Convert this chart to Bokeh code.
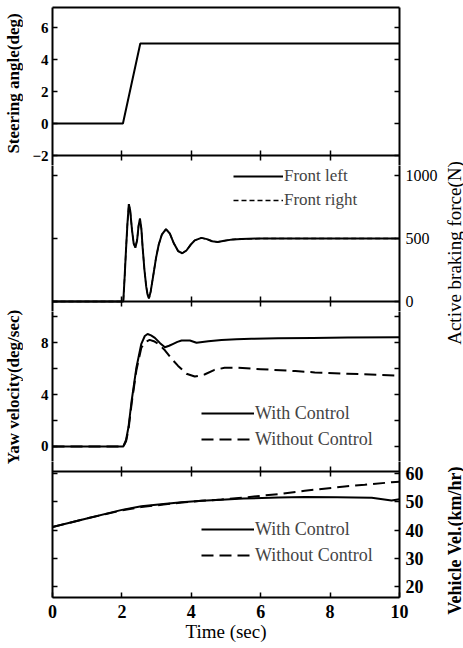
import math
from bokeh.plotting import figure
from bokeh.models import LinearAxis, FixedTicker, Range1d, Legend, LegendItem
from bokeh.layouts import column, row
from bokeh.embed import file_html
from bokeh.resources import INLINE

# ---------------- data ----------------
time_steer = [0, 2.03, 2.53, 10]
steer_deg = [0, 0, 5, 5]

time_brake = [0, 2.04, 2.08, 2.12, 2.16, 2.2, 2.24, 2.29, 2.34, 2.39, 2.44,
              2.48, 2.52, 2.56, 2.6, 2.65, 2.7, 2.74, 2.78, 2.83, 2.9,
              2.98, 3.06, 3.15, 3.27, 3.38, 3.5, 3.62, 3.74, 3.86, 3.98,
              4.1, 4.29, 4.45, 4.6, 4.76, 4.95, 5.2, 5.45, 6.0, 7.0,
              8.0, 9.0, 10.0]
front_left = [0, 0, 200, 420, 620, 773, 720, 570, 460, 428, 490,
              600, 658, 580, 420, 250, 120, 55, 25, 80, 200,
              340, 450, 530, 574, 540, 460, 400, 383, 405, 450,
              485, 505, 495, 478, 473, 482, 493, 497, 500, 500,
              500, 500, 500]
front_right = [0, 0, 200, 420, 620, 773, 720, 570, 460, 428, 490,
               600, 658, 580, 420, 250, 120, 55, 25, 80, 200,
               340, 450, 530, 574, 540, 460, 400, 383, 405, 450,
               485, 505, 495, 478, 473, 482, 493, 497, 500, 500,
               500, 500, 500]

time_yaw_with = [0, 2.04, 2.12, 2.19, 2.28, 2.42, 2.56, 2.66, 2.74, 2.84,
                 2.95, 3.1, 3.24, 3.36, 3.48, 3.6, 3.72, 3.96, 4.15, 4.49,
                 4.87, 5.3, 5.73, 6.5, 7.5, 8.5, 10]
yaw_with = [0, 0, 0.5, 1.5, 3.5, 6.1, 7.9, 8.5, 8.65, 8.55,
            8.36, 7.95, 7.64, 7.75, 7.9, 8.05, 8.15, 8.15, 7.98, 8.1,
            8.2, 8.25, 8.28, 8.32, 8.35, 8.38, 8.4]
time_yaw_without = [0, 2.04, 2.12, 2.19, 2.28, 2.42, 2.56, 2.66, 2.8, 2.92,
                    3.05, 3.24, 3.43, 3.62, 3.86, 4.1, 4.38, 4.67, 4.96, 5.35,
                    6.0, 7.0, 7.56, 8.5, 9.87, 10]
yaw_without = [0, 0, 0.4, 1.3, 3.3, 5.9, 7.6, 8.0, 8.2, 8.1,
               7.9, 7.4, 6.75, 6.2, 5.6, 5.38, 5.54, 5.9, 6.05, 6.05,
               5.95, 5.8, 5.7, 5.6, 5.46, 5.45]

time_vel_with = [0, 0.93, 2.0, 2.56, 3.2, 3.72, 4.3, 4.87, 5.5, 6.5, 7.27, 8.2, 9.2, 9.77, 10]
vel_with = [41.1, 44.0, 47.2, 48.5, 49.3, 49.9, 50.4, 50.8, 51.2, 51.6, 51.8, 51.7, 51.5, 50.5, 51.0]
time_vel_without = [0, 0.93, 2.0, 2.56, 3.2, 3.72, 4.3, 4.87, 5.54, 6.5, 7.27, 8.42, 9.0, 9.77, 10]
vel_without = [41.1, 44.0, 47.0, 48.2, 49.1, 49.8, 50.4, 50.9, 51.6, 52.8, 54.0, 55.5, 56.1, 57.0, 57.2]

x_ticks = [0, 2, 4, 6, 8, 10]
border_x_ticks = [2, 4, 6, 8]
steer_ticks = [-2, 0, 2, 4, 6]
brake_ticks = [0, 500, 1000]
yaw_ticks = [0, 4, 8]
yaw_minor_ticks = [2, 6, 10]
yaw_all_ticks = [0, 2, 4, 6, 8, 10]
vel_ticks = [20, 30, 40, 50, 60]

# ---------------- styling ----------------
FONT = "Liberation Serif"
FRAME_W = 347
LEFT_B = 29
RIGHT_B = 40
LEFT_STRIP = 22
RIGHT_STRIP = 22


def make_fig(frame_h, y0, y1, top_border=0, bottom_border=0):
    p = figure(frame_width=FRAME_W, frame_height=frame_h,
               x_range=Range1d(0, 10), y_range=Range1d(y0, y1),
               x_axis_location=None, y_axis_location=None,
               output_backend="svg", toolbar_location=None,
               min_border_left=LEFT_B, min_border_right=RIGHT_B,
               min_border_top=top_border, min_border_bottom=bottom_border)
    p.xgrid.grid_line_color = None
    p.ygrid.grid_line_color = None
    p.outline_line_color = None
    p.background_fill_color = "white"
    p.border_fill_color = "white"
    return p


def style_axis(ax, show_labels=False, font_size="15px", bold=True, standoff=4,
               tick_in=5, tick_out=0, minor=False):
    ax.axis_line_width = 2
    ax.axis_line_color = "black"
    ax.major_tick_in = tick_in
    ax.major_tick_out = tick_out
    ax.major_tick_line_width = 1.5
    if minor:
        ax.minor_tick_in = tick_in
        ax.minor_tick_out = tick_out
        ax.minor_tick_line_width = 1.5
    else:
        ax.minor_tick_line_color = None
    if show_labels:
        ax.major_label_text_font = FONT
        ax.major_label_text_font_size = font_size
        ax.major_label_text_font_style = "bold" if bold else "normal"
        ax.major_label_text_color = "black"
        ax.major_label_standoff = standoff
    else:
        ax.major_label_text_color = None
        ax.major_label_text_font_size = "0px"
        ax.major_label_standoff = 0


def add_axis(p, side, ticks, minor=None, label=None, label_size="17px",
             label_bold=True, label_standoff=5, fixed=None, **kw):
    ax = LinearAxis(ticker=FixedTicker(ticks=ticks, minor_ticks=minor or []))
    if fixed is not None:
        ax.fixed_location = fixed
    style_axis(ax, minor=bool(minor), **kw)
    if label:
        ax.axis_label = label
        ax.axis_label_text_font = FONT
        ax.axis_label_text_font_size = label_size
        ax.axis_label_text_font_style = "bold" if label_bold else "normal"
        ax.axis_label_text_color = "black"
        ax.axis_label_standoff = label_standoff
    p.add_layout(ax, side)
    return ax


def make_legend(items, loc, gw, gh, standoff, fs="18px"):
    lg = Legend(items=items, location=loc)
    lg.border_line_color = None
    lg.background_fill_alpha = 0
    lg.padding = 0
    lg.margin = 0
    lg.spacing = 2
    lg.glyph_width = gw
    lg.glyph_height = gh
    lg.label_height = gh
    lg.label_standoff = standoff
    lg.label_text_font = FONT
    lg.label_text_font_size = fs
    return lg


def title_strip(width, top_gap, span, text, size, bold):
    """A narrow, empty figure whose left axis title reads bottom-to-top."""
    s = figure(frame_width=1, frame_height=span,
               x_range=Range1d(0, 1), y_range=Range1d(0, 1),
               x_axis_location=None, y_axis_location=None,
               output_backend="svg", toolbar_location=None,
               min_border_left=width - 1, min_border_right=0,
               min_border_top=top_gap, min_border_bottom=0)
    s.xgrid.grid_line_color = None
    s.ygrid.grid_line_color = None
    s.outline_line_color = None
    s.background_fill_color = "white"
    s.border_fill_color = "white"
    ax = LinearAxis(ticker=FixedTicker(ticks=[]))
    ax.axis_line_color = None
    ax.major_tick_line_color = None
    ax.minor_tick_line_color = None
    ax.major_label_text_color = None
    ax.major_label_text_font_size = "0px"
    ax.major_label_standoff = 0
    ax.major_tick_in = 0
    ax.major_tick_out = 0
    ax.axis_label = text
    ax.axis_label_text_font = FONT
    ax.axis_label_text_font_size = size
    ax.axis_label_text_font_style = "bold" if bold else "normal"
    ax.axis_label_text_color = "black"
    ax.axis_label_standoff = 0
    s.add_layout(ax, "left")
    return s


# ---------------- panel 1: steering ----------------
p1 = make_fig(158, -2.625, 7.25, top_border=7)
p1.line(time_steer, steer_deg, line_color="black", line_width=2)
add_axis(p1, "left", steer_ticks, show_labels=True, font_size="15px", standoff=4)
add_axis(p1, "right", steer_ticks)
add_axis(p1, "above", [], tick_in=0)
add_axis(p1, "below", border_x_ticks, fixed=-2, tick_in=5, tick_out=5)

# ---------------- panel 2: braking force ----------------
p2 = make_fig(146, -79.4, 1079.4)
r_fr = p2.line(time_brake, front_right, line_color="black", line_width=1.5,
               line_dash="5 3")
r_fl = p2.line(time_brake, front_left, line_color="black", line_width=2)
add_axis(p2, "left", brake_ticks)
add_axis(p2, "right", brake_ticks, show_labels=True, font_size="16px", bold=False,
         standoff=6)
add_axis(p2, "below", border_x_ticks, fixed=0, tick_in=5, tick_out=5)
p2.add_layout(make_legend([LegendItem(label="Front left", renderers=[r_fl]),
                           LegendItem(label="Front right", renderers=[r_fr])],
                          (181, 100), 50, 22, 1, fs="17px"))

# ---------------- panel 3: yaw velocity ----------------
p3 = make_fig(150, -1.154, 10.385)
r_yw = p3.line(time_yaw_with, yaw_with, line_color="black", line_width=2)
r_ywo = p3.line(time_yaw_without, yaw_without, line_color="black", line_width=2,
                line_dash="12 6")
add_axis(p3, "left", yaw_ticks, minor=yaw_minor_ticks, show_labels=True,
         font_size="15px", standoff=4)
add_axis(p3, "right", yaw_all_ticks)
p3.add_layout(make_legend([LegendItem(label="With Control", renderers=[r_yw]),
                           LegendItem(label="Without Control", renderers=[r_ywo])],
                          (149, 10), 53, 24, 1))

# ---------------- panel 4: vehicle velocity ----------------
p4 = make_fig(136, 16.13, 64.36)
r_vw = p4.line(time_vel_with, vel_with, line_color="black", line_width=2)
r_vwo = p4.line(time_vel_without, vel_without, line_color="black", line_width=2,
                line_dash="12 6")
add_axis(p4, "left", vel_ticks)
add_axis(p4, "right", vel_ticks, show_labels=True, font_size="18px", standoff=6)
add_axis(p4, "above", border_x_ticks, fixed=60.82, tick_in=5, tick_out=5)
add_axis(p4, "below", x_ticks, show_labels=True, font_size="18px", standoff=7,
         label="Time (sec)", label_size="19px", label_bold=False, label_standoff=0)
p4.add_layout(make_legend([LegendItem(label="With Control", renderers=[r_vw]),
                           LegendItem(label="Without Control", renderers=[r_vwo])],
                          (149, 30), 53, 24, 1))

# ---------------- axis titles (strips) ----------------
l1 = title_strip(LEFT_STRIP, 13, 140, "Steering angle(deg)", "17px", True)
l3 = title_strip(LEFT_STRIP, 153, 161, "Yaw velocity(deg/sec)", "17px", True)
r2 = title_strip(RIGHT_STRIP, 160, 185, "Active braking force(N)", "19px", False)
r4 = title_strip(RIGHT_STRIP, 118, 154, "Vehicle Vel.(km/hr)", "18px", True)

layout = row(column(l1, l3, spacing=0),
             column(p1, p2, p3, p4, spacing=0),
             column(r2, r4, spacing=0),
             spacing=0)

open("out.html", "w").write(file_html(layout, INLINE))
